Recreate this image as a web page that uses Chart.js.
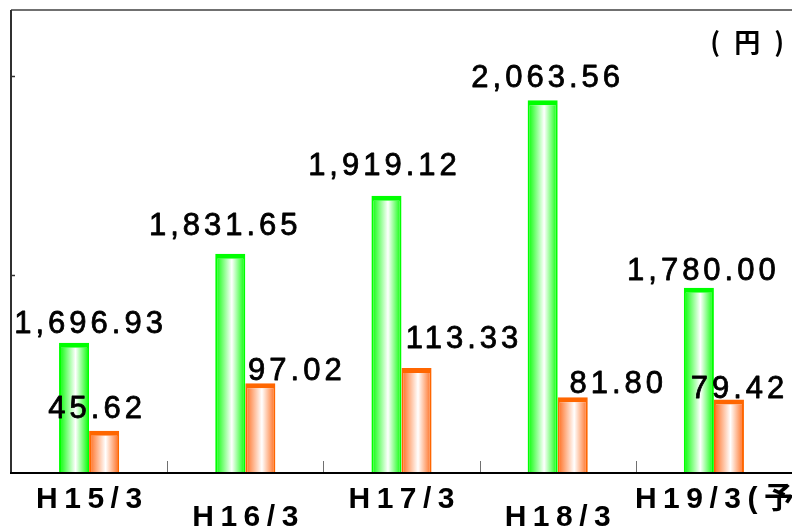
<!DOCTYPE html>
<html lang="ja">
<head>
  <meta charset="UTF-8">
  <title>円 chart</title>
  <script src="https://cdn.jsdelivr.net/npm/chart.js"></script>
  <style>
    body { margin: 0; background: #fff; }
  </style>
</head>
<body>
  <canvas id="chart" width="792" height="528"></canvas>

  <script>
    // data
    const categories = ['H15/3', 'H16/3', 'H17/3', 'H18/3', 'H19/3(予想)'];
    const greenValues = [1696.93, 1831.65, 1919.12, 2063.56, 1780.00];
    const orangeValues = [45.62, 97.02, 113.33, 81.80, 79.42];
    const greenTicks = [1800, 2100];

    // label nudges (px) so they sit where the original has them
    const greenLabelDx = [14.5, -7, -4, 3, 2.5];
    const greenLabelDy = [-9.7, -18.6, -20.8, -13.3, -7.8];
    const orangeLabelDx = [-9, 34.5, 45.5, 43.5, 8.5];
    const orangeLabelDy = [-12.8, -3.2, -20, -4.3, -1.5];
    const catLabelDx = [0, 0, 0, 0, 27];

    const groupPct = 0.385;

    function fmt(v) {
      return v.toLocaleString('en-US', { minimumFractionDigits: 2, maximumFractionDigits: 2 });
    }

    // horizontal gradient across each bar
    function barGradient(edge) {
      return function (c) {
        const chart = c.chart;
        const area = chart.chartArea;
        if (!area || c.dataIndex === undefined) return edge;
        const xs = chart.scales.x;
        const catW = (area.right - area.left) / categories.length;
        const barW = catW * groupPct / 2;
        const center = xs.getPixelForValue(c.dataIndex);
        const left = c.datasetIndex === 0 ? center - barW : center;
        const g = chart.ctx.createLinearGradient(left, 0, left + barW, 0);
        g.addColorStop(0, edge);
        g.addColorStop(0.55, '#ffffff');
        g.addColorStop(1, edge);
        return g;
      };
    }

    const framePlugin = {
      id: 'frame',
      beforeDatasetsDraw(chart) {
        const { ctx, chartArea: a } = chart;
        const xs = chart.scales.x;
        const ys = chart.scales.y;
        ctx.save();
        // top border
        ctx.strokeStyle = '#707070';
        ctx.lineWidth = 2;
        ctx.beginPath();
        ctx.moveTo(a.left, a.top);
        ctx.lineTo(chart.width, a.top);
        ctx.stroke();
        // left axis
        ctx.strokeStyle = '#303030';
        ctx.beginPath();
        ctx.moveTo(a.left, a.top);
        ctx.lineTo(a.left, a.bottom);
        ctx.stroke();
        // y ticks
        ctx.lineWidth = 1.5;
        greenTicks.forEach(t => {
          const y = Math.round(ys.getPixelForValue(t)) + 0.5;
          ctx.beginPath();
          ctx.moveTo(a.left, y);
          ctx.lineTo(a.left + 4, y);
          ctx.stroke();
        });
        // category ticks
        ctx.strokeStyle = '#707070';
        ctx.lineWidth = 1;
        for (let i = 1; i < categories.length; i++) {
          const x = Math.round((xs.getPixelForValue(i - 1) + xs.getPixelForValue(i)) / 2) + 0.5;
          ctx.beginPath();
          ctx.moveTo(x, a.bottom - 12);
          ctx.lineTo(x, a.bottom);
          ctx.stroke();
        }
        ctx.restore();
      },
      afterDatasetsDraw(chart) {
        const { ctx, chartArea: a } = chart;
        const xs = chart.scales.x;
        ctx.save();
        // baseline
        ctx.strokeStyle = '#000';
        ctx.lineWidth = 2;
        ctx.beginPath();
        ctx.moveTo(a.left - 1, a.bottom);
        ctx.lineTo(chart.width, a.bottom);
        ctx.stroke();

        ctx.fillStyle = '#000';
        ctx.strokeStyle = '#000';
        ctx.textBaseline = 'alphabetic';
        ctx.textAlign = 'left';

        // value labels (regular face, thickened a little)
        ctx.font = '31px "Liberation Sans", Arial, sans-serif';
        ctx.letterSpacing = '4px';
        ctx.lineWidth = 0.8;
        ctx.lineJoin = 'round';
        const sets = [
          { vals: greenValues, scale: chart.scales.y, dx: greenLabelDx, dy: greenLabelDy },
          { vals: orangeValues, scale: chart.scales.y2, dx: orangeLabelDx, dy: orangeLabelDy }
        ];
        sets.forEach((s, d) => {
          const meta = chart.getDatasetMeta(d);
          s.vals.forEach((v, i) => {
            const txt = fmt(v);
            const w = ctx.measureText(txt).width - 4;
            const cx = meta.data[i].x + s.dx[i];
            const y = s.scale.getPixelForValue(v) + s.dy[i];
            ctx.fillText(txt, cx - w / 2, y);
            ctx.strokeText(txt, cx - w / 2, y);
          });
        });

        // category labels, staggered
        ctx.font = 'bold 30px "Liberation Sans", Arial, "Noto Sans CJK JP", sans-serif';
        ctx.letterSpacing = '6.5px';
        categories.forEach((c, i) => {
          const w = ctx.measureText(c).width - 6.5;
          const cx = xs.getPixelForValue(i) + catLabelDx[i];
          const y = i % 2 === 0 ? a.bottom + 35 : a.bottom + 53;
          ctx.fillText(c, cx - w / 2, y);
        });

        // unit
        ctx.font = 'bold 26px "Noto Sans CJK JP", sans-serif';
        ctx.letterSpacing = '14px';
        const unit = '(円)';
        const uw = ctx.measureText(unit).width - 14;
        ctx.fillText(unit, 784 - uw, a.top + 42);
        ctx.restore();
      }
    };

    new Chart(document.getElementById('chart'), {
      type: 'bar',
      data: {
        labels: categories,
        datasets: [
          {
            data: greenValues,
            yAxisID: 'y',
            backgroundColor: barGradient('#00ff00'),
            borderColor: '#00ff00',
            borderWidth: { top: 5, left: 2, right: 2, bottom: 0 },
            borderSkipped: 'bottom',
            barPercentage: 1,
            categoryPercentage: groupPct
          },
          {
            data: orangeValues,
            yAxisID: 'y2',
            backgroundColor: barGradient('#ff6a1a'),
            borderColor: '#ff6600',
            borderWidth: { top: 5, left: 2, right: 2, bottom: 0 },
            borderSkipped: 'bottom',
            barPercentage: 1,
            categoryPercentage: groupPct
          }
        ]
      },
      options: {
        responsive: false,
        animation: false,
        layout: { padding: { left: 11, top: 10, right: 0, bottom: 55 } },
        plugins: { legend: { display: false }, tooltip: { enabled: false } },
        scales: {
          x: { display: false },
          y: { display: false, min: 1500, max: 2200 },
          y2: { display: false, min: 0, max: 500, position: 'right' }
        }
      },
      plugins: [framePlugin]
    });
  </script>
</body>
</html>
